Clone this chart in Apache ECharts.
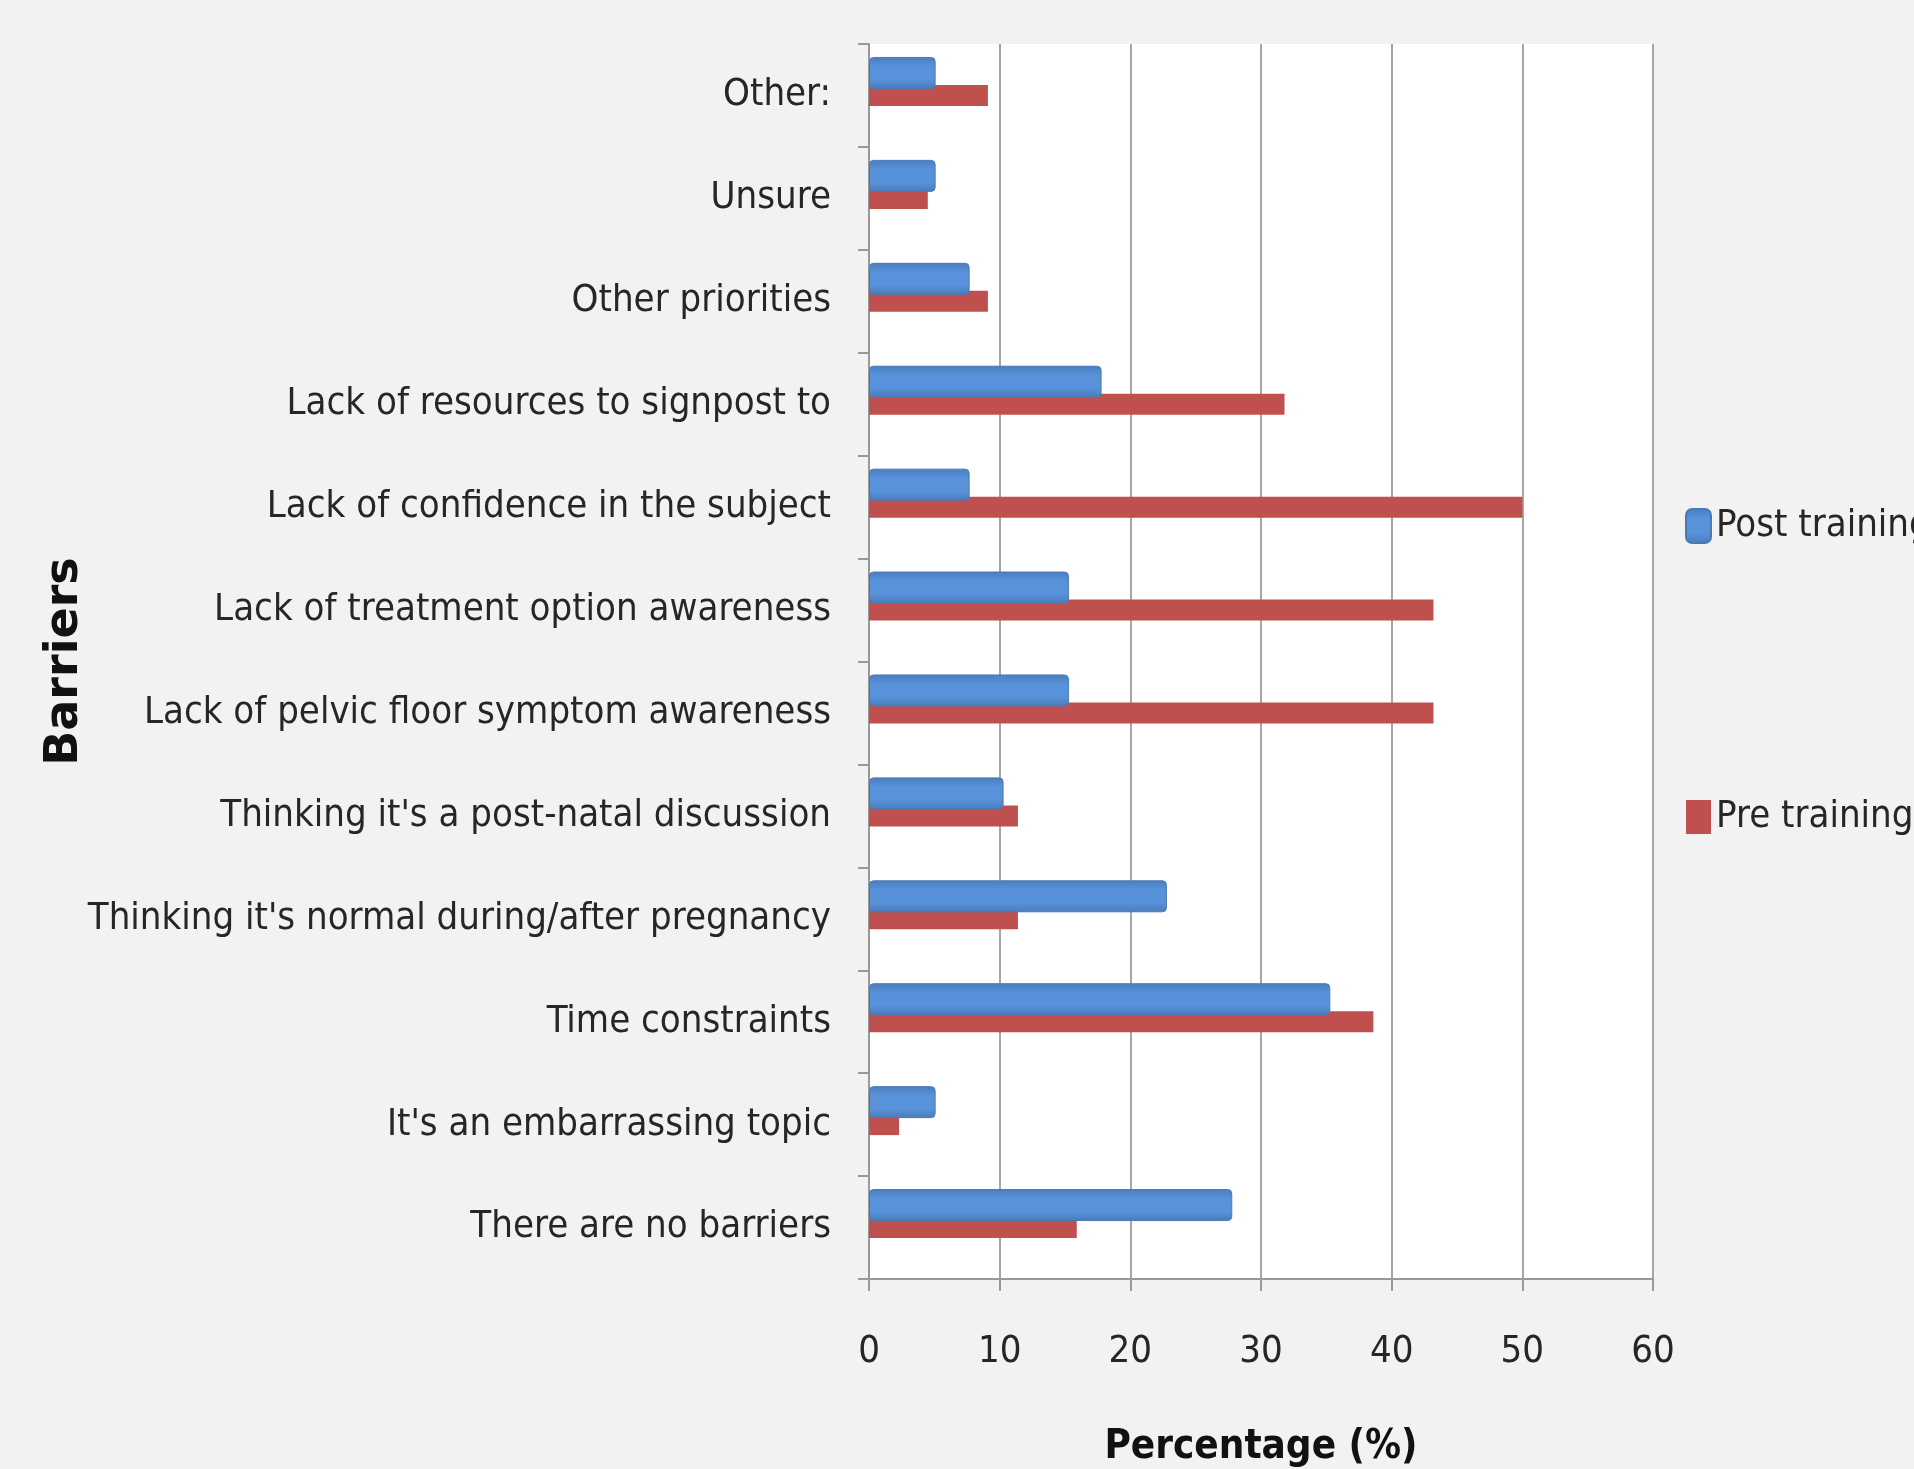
<!DOCTYPE html>
<html>
<head>
<meta charset="utf-8">
<script src="https://cdn.jsdelivr.net/npm/echarts@6/dist/echarts.min.js"></script>
<style>
  html, body { margin: 0; padding: 0; background: #f2f2f2; }
  #chart { width: 1914px; height: 1469px; }
</style>
</head>
<body>
<div id="chart"></div>
<script>
// Barriers to discussing pelvic floor health, before and after training (listed bottom to top)
const barriers = [
  "There are no barriers",
  "It's an embarrassing topic",
  "Time constraints",
  "Thinking it's normal during/after pregnancy",
  "Thinking it's a post-natal discussion",
  "Lack of pelvic floor symptom awareness",
  "Lack of treatment option awareness",
  "Lack of confidence in the subject",
  "Lack of resources to signpost to",
  "Other priorities",
  "Unsure",
  "Other:"
];
const postTraining = [27.8, 5.1, 35.3, 22.8, 10.3, 15.3, 15.3, 7.7, 17.8, 7.7, 5.1, 5.1];
const preTraining  = [15.9, 2.3, 38.6, 11.4, 11.4, 43.2, 43.2, 50.0, 31.8, 9.1, 4.5, 9.1];
const percentTicks = [0, 10, 20, 30, 40, 50, 60];

const narrowFont = "'DejaVu Sans Condensed', 'Liberation Sans Narrow', 'Liberation Sans', sans-serif";
const gridLine = '#a6a6a6';
const axisGrey = '#999999';

const chart = echarts.init(document.getElementById('chart'), null, { renderer: 'canvas' });

// bevelled look of the post-training bars
const blueBevel = new echarts.graphic.LinearGradient(0, 0, 0, 1, [
  { offset: 0, color: '#4b7dbd' },
  { offset: 0.3, color: '#5892da' },
  { offset: 0.7, color: '#5892da' },
  { offset: 1, color: '#4a7bb9' }
]);

chart.setOption({
  backgroundColor: '#f2f2f2',
  animation: false,
  grid: [
    { left: 869, top: 44, width: 784, height: 1235, show: true, backgroundColor: '#ffffff',
      borderWidth: 0, containLabel: false, outerBoundsMode: 'none' },
    // post-training bars sit slightly above the category centre
    { left: 869, top: 21.5, width: 784, height: 1235, show: false,
      containLabel: false, outerBoundsMode: 'none' }
  ],
  legend: {
    orient: 'vertical',
    left: 1685,
    top: 501,
    padding: 0,
    itemGap: 241,
    itemWidth: 25,
    itemHeight: 34,
    textStyle: { fontFamily: narrowFont, fontSize: 38, color: '#262626', lineHeight: 50 },
    data: [
      { name: 'Post training', icon: 'roundRect' },
      { name: 'Pre training', icon: 'rect' }
    ]
  },
  xAxis: [
    {
      type: 'value', gridIndex: 0, min: 0, max: 60, interval: 10,
      name: 'Percentage (%)', nameLocation: 'middle', nameGap: 149,
      nameTextStyle: { fontFamily: narrowFont, fontWeight: 'bold', fontSize: 40, color: '#111' },
      axisLine: { show: true, lineStyle: { color: axisGrey, width: 2 } },
      axisTick: { show: true, length: 12, lineStyle: { color: axisGrey, width: 2 } },
      axisLabel: {
        margin: 54, fontFamily: narrowFont, fontSize: 38, color: '#262626',
        formatter: v => percentTicks.includes(v) ? String(v) : ''
      },
      splitLine: { show: true, lineStyle: { color: gridLine, width: 2 } }
    },
    { type: 'value', gridIndex: 1, min: 0, max: 60, interval: 10, show: false }
  ],
  yAxis: [
    {
      type: 'category', gridIndex: 0, data: barriers,
      name: 'Barriers', nameLocation: 'middle', nameGap: 781, nameMoveOverlap: false,
      nameTextStyle: { fontFamily: "'DejaVu Sans', sans-serif", fontWeight: 'bold', fontSize: 46, color: '#111' },
      axisLine: { show: true, lineStyle: { color: axisGrey, width: 2 } },
      axisTick: { show: true, length: 11, lineStyle: { color: axisGrey, width: 2 } },
      axisLabel: { margin: 38, fontFamily: narrowFont, fontSize: 38, color: '#262626' },
      splitLine: { show: false }
    },
    { type: 'category', gridIndex: 1, data: barriers, show: false }
  ],
  series: [
    {
      name: 'Pre training', type: 'bar', xAxisIndex: 0, yAxisIndex: 0,
      data: preTraining, barWidth: 21, z: 2,
      itemStyle: { color: '#c0504d' }
    },
    {
      name: 'Post training', type: 'bar', xAxisIndex: 1, yAxisIndex: 1,
      data: postTraining, barWidth: 32, z: 3,
      itemStyle: { color: blueBevel, borderColor: '#4a7ab6', borderWidth: 1, borderRadius: 4 }
    }
  ]
});
</script>
</body>
</html>
